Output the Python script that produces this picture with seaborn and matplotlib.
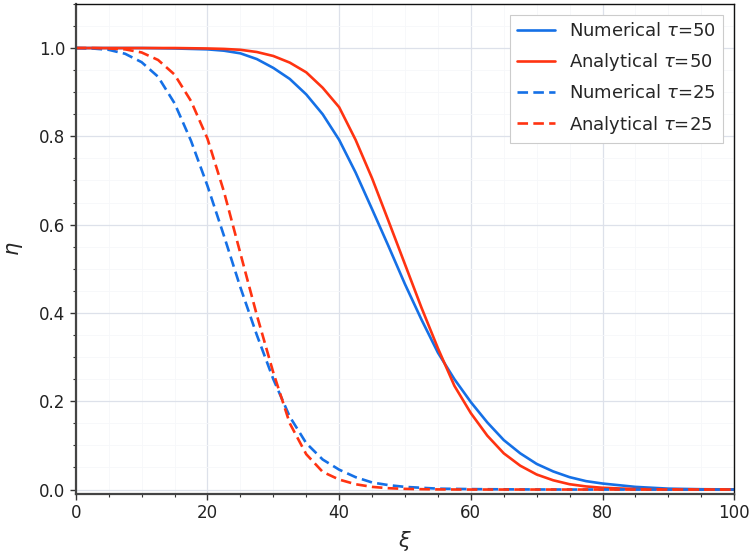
# ============================================================
# plot.py — numerical vs analytical profiles eta(xi)
# two times (tau=50 solid, tau=25 dashed), saved to out.png
# ============================================================

import numpy as np
import pandas as pd
import matplotlib
matplotlib.use("Agg")
import matplotlib.pyplot as plt
from matplotlib.ticker import MultipleLocator
import seaborn as sns


# ------------------------------------------------------------
# DATA — values
# ------------------------------------------------------------

xi = [0, 2.5, 5, 7.5, 10, 12.5, 15, 17.5, 20, 22.5, 25, 27.5, 30,
      32.5, 35, 37.5, 40, 42.5, 45, 47.5, 50, 52.5, 55, 57.5, 60,
      62.5, 65, 67.5, 70, 72.5, 75, 77.5, 80, 85, 90, 95, 100]

numerical_50 = [1.0, 1.0, 1.0, 1.0, 1.0, 0.9995, 0.999, 0.998, 0.997,
                0.994, 0.988, 0.975, 0.955, 0.93, 0.895, 0.85, 0.792,
                0.718, 0.635, 0.551, 0.465, 0.385, 0.31, 0.25, 0.198,
                0.152, 0.112, 0.082, 0.058, 0.041, 0.028, 0.019, 0.0136,
                0.006, 0.002, 0.0007, 0.0002]

analytical_50 = [1.0, 1.0, 1.0, 1.0, 1.0, 1.0, 1.0, 0.9995, 0.999,
                 0.998, 0.996, 0.991, 0.982, 0.967, 0.945, 0.91, 0.866,
                 0.792, 0.705, 0.608, 0.51, 0.412, 0.32, 0.235, 0.173,
                 0.122, 0.082, 0.054, 0.034, 0.021, 0.012, 0.007, 0.004,
                 0.001, 0.0003, 0.0001, 0.0]

numerical_25 = [1.0, 0.999, 0.996, 0.987, 0.968, 0.935, 0.875, 0.79,
                0.688, 0.575, 0.458, 0.35, 0.25, 0.165, 0.105, 0.068,
                0.045, 0.028, 0.016, 0.01, 0.006, 0.004, 0.002, 0.0015,
                0.001, 0.0007, 0.0005, 0.0003, 0.0002, 0.0001, 0.0, 0.0,
                0.0, 0.0, 0.0, 0.0, 0.0]

analytical_25 = [1.0, 1.0, 0.999, 0.997, 0.99, 0.973, 0.94, 0.88,
                 0.795, 0.675, 0.535, 0.395, 0.265, 0.15, 0.08, 0.04,
                 0.0226, 0.012, 0.006, 0.003, 0.0015, 0.0008, 0.0003,
                 0.0001, 0.0, 0.0, 0.0, 0.0, 0.0, 0.0, 0.0, 0.0, 0.0,
                 0.0, 0.0, 0.0, 0.0]

labels = [r"Numerical $\tau$=50", r"Analytical $\tau$=50",
          r"Numerical $\tau$=25", r"Analytical $\tau$=25"]

BLUE = "#1570e6"
RED = "#ff3311"


# ------------------------------------------------------------
# LONG-FORM TABLE FOR SEABORN
# ------------------------------------------------------------

series = [numerical_50, analytical_50, numerical_25, analytical_25]
frames = []
for lab, vals in zip(labels, series):
    frames.append(pd.DataFrame({"xi": xi, "eta": vals, "curve": lab}))
df = pd.concat(frames, ignore_index=True)

palette = {labels[0]: BLUE, labels[1]: RED, labels[2]: BLUE, labels[3]: RED}
dashes = {labels[0]: "", labels[1]: "", labels[2]: (4, 2), labels[3]: (4, 2)}


# ------------------------------------------------------------
# PLOT
# ------------------------------------------------------------

sns.set_theme(style="white")
plt.rcParams["font.family"] = ["DejaVu Sans"]

fig = plt.figure(figsize=(7.5, 5.55), dpi=100)
ax = fig.add_axes([0.101, 0.110, 0.878, 0.883])

sns.lineplot(data=df, x="xi", y="eta", hue="curve", style="curve",
             palette=palette, dashes=dashes, hue_order=labels,
             style_order=labels, linewidth=1.9, ax=ax)

ax.set_xlim(0, 100)
ax.set_ylim(-0.01, 1.1)
ax.xaxis.set_major_locator(MultipleLocator(20))
ax.xaxis.set_minor_locator(MultipleLocator(5))
ax.yaxis.set_major_locator(MultipleLocator(0.2))
ax.yaxis.set_minor_locator(MultipleLocator(0.05))
ax.yaxis.set_major_formatter(plt.FormatStrFormatter("%.1f"))

# grid: light blue-grey major lines, barely visible minor ones
ax.grid(which="major", color="#dde1ea", linewidth=0.9)
ax.grid(which="minor", color="#f6f7fa", linewidth=0.6)
ax.set_axisbelow(True)

ax.tick_params(which="major", direction="out", length=4, width=1,
               labelsize=12, color="#333333", labelcolor="#222222",
               bottom=True, left=True)
ax.tick_params(which="minor", direction="out", length=2.5, width=0.8,
               color="#333333", bottom=True, left=True)

for side in ["left", "bottom"]:
    ax.spines[side].set_color("#444444")
    ax.spines[side].set_linewidth(1.6)
for side in ["top", "right"]:
    ax.spines[side].set_color("#111111")
    ax.spines[side].set_linewidth(1.0)

ax.set_xlabel(r"$\xi$", fontsize=15, labelpad=5)
ax.set_ylabel(r"$\eta$", fontsize=15, labelpad=10)

leg = ax.legend(loc="upper right", fontsize=13, frameon=True,
                fancybox=False, edgecolor="#cccccc", framealpha=1.0,
                handlelength=2.1, labelspacing=0.62,
                borderaxespad=0.6)
leg.get_frame().set_linewidth(0.8)

fig.savefig("out.png", dpi=100)
